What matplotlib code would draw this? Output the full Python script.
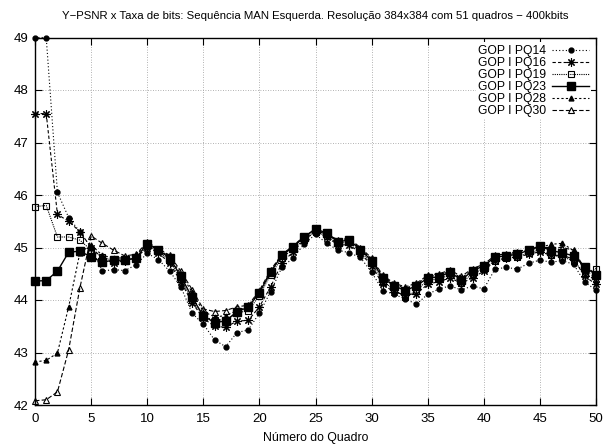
import matplotlib
matplotlib.use("Agg")
import matplotlib.pyplot as plt
import numpy as np

plt.rcParams['font.family'] = ['Liberation Sans', 'DejaVu Sans']

frames = list(range(51))

pq14 = [49.0, 49.0, 46.05, 45.57, 45.3, 45.0, 44.55, 44.58, 44.56, 44.67,
        44.89, 44.77, 44.55, 44.25, 43.75, 43.54, 43.24, 43.11, 43.38, 43.43,
        43.75, 44.16, 44.62, 44.8, 45.07, 45.25, 45.08, 44.95, 44.9, 44.81,
        44.53, 44.18, 44.11, 44.02, 43.92, 44.11, 44.21, 44.27, 44.19, 44.27,
        44.21, 44.59, 44.62, 44.59, 44.7, 44.76, 44.72, 44.75, 44.68, 44.34,
        44.19]
pq16 = [47.55, 47.55, 45.63, 45.5, 45.3, 45.0, 44.8, 44.7, 44.75, 44.8,
        45.0, 44.9, 44.7, 44.35, 43.95, 43.65, 43.5, 43.48, 43.6, 43.61,
        43.87, 44.25, 44.7, 44.92, 45.15, 45.3, 45.2, 45.05, 45.05, 44.9,
        44.65, 44.3, 44.15, 44.1, 44.12, 44.3, 44.35, 44.42, 44.32, 44.42,
        44.55, 44.75, 44.8, 44.82, 44.87, 44.92, 44.85, 44.85, 44.78, 44.45,
        44.3]
pq19 = [45.78, 45.8, 45.2, 45.2, 45.14, 44.95, 44.82, 44.75, 44.75, 44.8,
        45.02, 44.93, 44.75, 44.4, 44.0, 43.68, 43.62, 43.62, 43.75, 43.8,
        44.08, 44.48, 44.8, 44.97, 45.15, 45.3, 45.22, 45.08, 45.1, 44.93,
        44.7, 44.35, 44.2, 44.05, 44.18, 44.38, 44.4, 44.48, 44.33, 44.5,
        44.6, 44.75, 44.8, 44.82, 44.9, 44.95, 44.85, 44.82, 44.75, 44.5,
        44.6]
pq23 = [44.36, 44.37, 44.55, 44.91, 44.93, 44.82, 44.72, 44.76, 44.76, 44.8,
        45.07, 44.95, 44.8, 44.45, 44.05, 43.7, 43.57, 43.6, 43.78, 43.86,
        44.14, 44.53, 44.85, 45.01, 45.2, 45.36, 45.27, 45.11, 45.14, 44.96,
        44.75, 44.42, 44.27, 44.18, 44.27, 44.42, 44.44, 44.53, 44.38, 44.56,
        44.65, 44.82, 44.84, 44.87, 44.95, 45.03, 44.94, 44.9, 44.84, 44.63,
        44.48]
pq28 = [42.82, 42.85, 42.99, 43.87, 44.9, 45.05, 44.85, 44.8, 44.8, 44.85,
        45.08, 44.97, 44.82, 44.5, 44.15, 43.78, 43.68, 43.7, 43.8, 43.87,
        44.15, 44.55, 44.85, 45.02, 45.2, 45.32, 45.25, 45.12, 45.15, 44.98,
        44.78, 44.45, 44.3, 44.22, 44.3, 44.45, 44.47, 44.55, 44.42, 44.57,
        44.65, 44.82, 44.85, 44.9, 44.95, 45.0, 45.06, 45.08, 44.94, 44.55,
        44.35]
pq30 = [42.08, 42.1, 42.25, 43.05, 44.23, 45.22, 45.08, 44.95, 44.84, 44.87,
        45.1, 44.98, 44.85, 44.55, 44.2, 43.83, 43.78, 43.8, 43.87, 43.9,
        44.18, 44.57, 44.87, 45.03, 45.22, 45.33, 45.25, 45.15, 45.17, 45.0,
        44.8, 44.47, 44.32, 44.25, 44.32, 44.47, 44.5, 44.57, 44.45, 44.6,
        44.68, 44.85, 44.88, 44.92, 44.97, 45.0, 45.0, 45.0, 44.95, 44.6,
        44.4]

labels = ["GOP I PQ14", "GOP I PQ16", "GOP I PQ19", "GOP I PQ23",
          "GOP I PQ28", "GOP I PQ30"]
xticks = [0, 5, 10, 15, 20, 25, 30, 35, 40, 45, 50]
yticks = [42, 43, 44, 45, 46, 47, 48, 49]

fig = plt.figure(figsize=(6.12, 4.47), dpi=100)
ax = fig.add_axes([35/612, 1-405/447, (596-35)/612, (405-37.5)/447])

styles = [
    dict(ls=(0, (1, 2)), marker='o', ms=3.5, mfc='black', lw=0.8),
    dict(ls=(0, (3, 2)), marker=(8, 2, 0), ms=6, mew=0.8, lw=0.8),
    dict(ls=(0, (1, 1)), marker='s', ms=5, mfc='none', mew=0.8, lw=0.8),
    dict(ls='-', marker='s', ms=6, mfc='black', lw=1.0),
    dict(ls=(0, (2, 2)), marker='^', ms=3.5, mfc='black', lw=0.8),
    dict(ls=(0, (4, 2)), marker='^', ms=5, mfc='none', mew=0.8, lw=0.8),
]
series = [pq14, pq16, pq19, pq23, pq28, pq30]
for s, lab, st in zip(series, labels, styles):
    ax.plot(frames, s, color='black', mec='black', label=lab, **st,
            clip_on=False, zorder=3)

ax.set_xlim(0, 50)
ax.set_ylim(42, 49)
ax.set_xticks(xticks)
ax.set_yticks(yticks)
ax.grid(True, color='#999999', ls=(0, (1, 2)), lw=0.6)
ax.tick_params(direction='in', length=5, width=0.8, top=True, right=True,
               labelsize=9.5, colors='black')
ax.tick_params(axis='y', pad=5)
ax.tick_params(axis='x', pad=6)
for sp in ax.spines.values():
    sp.set_linewidth(1.0)

ax.set_title("Y\u2212PSNR x Taxa de bits: Sequ\u00eancia MAN Esquerda. Resolu\u00e7\u00e3o 384x384 com 51 quadros \u2212 400kbits",
             fontsize=8.2, pad=13)
ax.set_xlabel("N\u00famero do Quadro", fontsize=8.8, labelpad=5)

leg = ax.legend(loc='upper right', markerfirst=False, fontsize=8.7,
                handlelength=3.0, labelspacing=0.0, borderpad=0.2,
                handletextpad=0.5, frameon=True, fancybox=False,
                borderaxespad=0.4)
leg.get_frame().set_edgecolor('none')
leg.get_frame().set_facecolor('white')
leg.get_frame().set_alpha(1)
for t in leg.get_texts():
    t.set_ha('right')
leg.set_zorder(5)

fig.savefig("out.png", dpi=100)
